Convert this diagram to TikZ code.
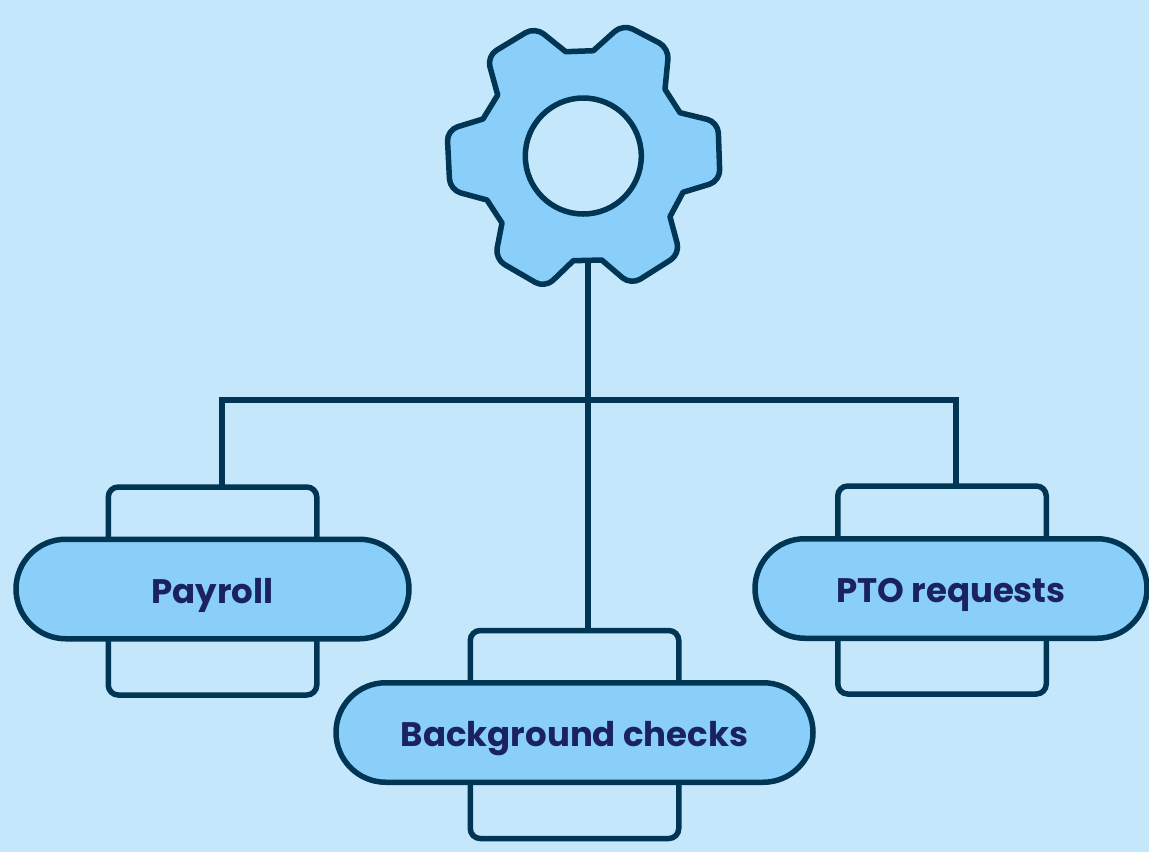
\documentclass[tikz,border=0pt]{standalone}
\usepackage{fontspec}
\setmainfont{Poppins}
\usetikzlibrary{shapes.misc}
\definecolor{skybg}{HTML}{C5E7FC}
\definecolor{skyfill}{HTML}{8ACEFA}
\definecolor{inkline}{HTML}{003554}
\definecolor{inktext}{HTML}{1A2360}
\begin{document}
\begin{tikzpicture}[x=1pt,y=-1pt,line width=5.5pt,draw=inkline,
  backbox/.style={rectangle,draw,rounded corners=10pt,fill=skybg,minimum width=208.5pt,minimum height=208pt,outer sep=0pt},
  pill/.style={rounded rectangle,draw,fill=skyfill,minimum height=99.5pt,outer sep=0pt,text=inktext,font=\fontsize{34}{40}\selectfont\bfseries,inner sep=0pt,text height=30pt,text depth=2pt}]

% background and page size
  \fill[skybg] (0,0) rectangle (1149,852);
  \useasboundingbox (0,0) rectangle (1149,852);

% define the boxes behind the labels
  \node[backbox] (payrollback) at (212.5,591) {};
  \node[backbox] (checksback)  at (574.5,734.5) {};
  \node[backbox] (ptoback)     at (942,590) {};

% define the free ends of the links
  \coordinate (gearfoot)   at (588,260);
  \coordinate (branch)     at (588,400);
  \coordinate (payrolltop) at (222,486.7);
  \coordinate (checkstop)  at (588,630.5);
  \coordinate (ptotop)     at (956,486);

% define the links
  \draw (gearfoot) -- (checkstop);
  \draw (payrolltop) |- (branch) -| (ptotop);

% define the labels
  \node[pill,minimum width=393pt] (payroll) at (212.5,589) {Payroll};
  \node[pill,minimum width=477pt] (checks)  at (574.5,732.5) {Background checks};
  \node[pill,minimum width=392pt] (pto)     at (951,588.5) {PTO requests};

% define the gear
  \filldraw[fill=skyfill,line join=round] (565.7,51.7) -- (593.3,50.7)
    [rounded corners=11pt] -- (623,24) -- (669,48) [sharp corners] -- (665,89.3) -- (680,112.7)
    [rounded corners=11pt] -- (718,122) -- (720,181) [sharp corners] -- (683,192.3) -- (670,216.7)
    [rounded corners=11pt] -- (680,254) -- (631,285) [sharp corners] -- (601.7,260) -- (573.3,260.7)
    [rounded corners=11pt] -- (545,288) -- (495,259) [sharp corners] -- (502,223) -- (487,200)
    [rounded corners=11pt] -- (450,190) -- (447,130) [sharp corners] -- (483,119) -- (497.7,95)
    [rounded corners=11pt] -- (487,56) -- (535,27) [sharp corners] -- cycle;
  \node[circle,draw,fill=skybg,minimum size=116pt,inner sep=0pt] (gearhole) at (583.3,156) {};

\end{tikzpicture}
\end{document}
